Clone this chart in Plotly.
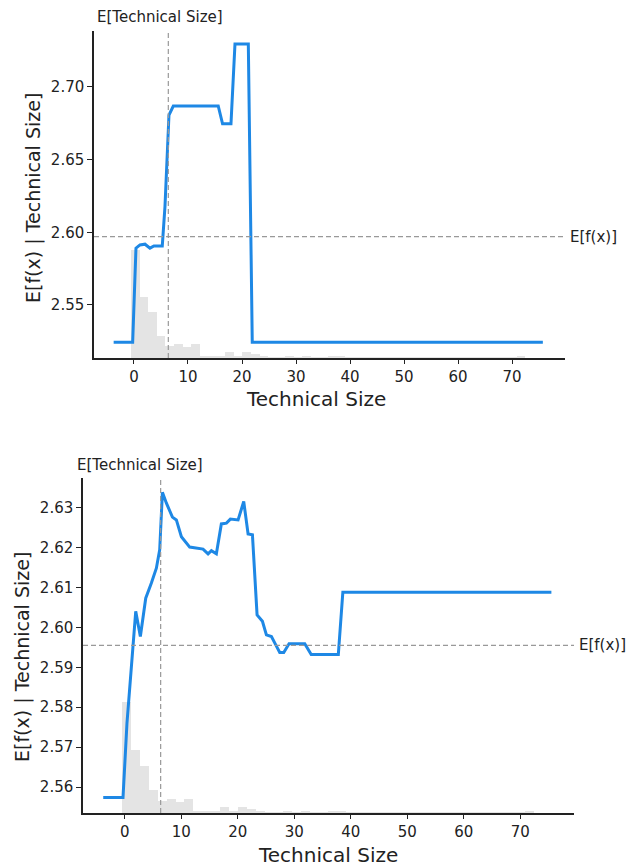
import numpy as np
import plotly.graph_objects as go

# ---------------- data ----------------
feature_name = "Technical Size"
expected_feature = 6.36          # E[Technical Size]

# top panel: partial dependence
top_x = [-3.76, -0.24, 0.37, 1.11, 2.04, 2.96, 3.7, 5.24, 5.74, 6.48, 7.28, 15.6,
         16.4, 17.96, 18.7, 21.17, 21.9, 75.7]
top_y = [2.5244, 2.5244, 2.5891, 2.5913, 2.5918, 2.5891, 2.5906, 2.5906, 2.6177,
         2.6807, 2.6869, 2.6869, 2.6746, 2.6746, 2.7296, 2.7296, 2.5244, 2.5244]
top_base = 2.597                 # E[f(x)]

# bottom panel: partial dependence
bot_x = [-3.8, -0.3, 0.4, 1.18, 1.95, 2.77, 3.72, 4.72, 5.6, 6.19, 6.67, 7.38, 8.44,
         9.14, 10.03, 11.5, 13.86, 14.75, 15.34, 16.22, 17.1, 18.0, 18.7, 20.06,
         21.06, 21.83, 22.6, 23.42, 24.37, 25.07, 25.96, 26.73, 27.43, 28.14, 29.08,
         31.86, 33.0, 37.8, 38.6, 75.5]
bot_y = [2.5574, 2.5574, 2.5760, 2.5890, 2.6040, 2.5977, 2.6073, 2.6111, 2.6148,
         2.6194, 2.6338, 2.6311, 2.6276, 2.6269, 2.6227, 2.6201, 2.6196, 2.6184,
         2.6192, 2.6184, 2.6259, 2.6261, 2.6271, 2.6269, 2.6315, 2.6234, 2.6232,
         2.6031, 2.6015, 2.5981, 2.5977, 2.5956, 2.5937, 2.5937, 2.5959, 2.5959,
         2.5932, 2.5932, 2.6088, 2.6088]
bot_base = 2.5955                # E[f(x)]

# feature histogram (shared by both panels), 50 bins over hist_range
hist_range = (-3.7, 75.6)
hist_counts = [0, 0, 1110, 630, 470, 230, 120, 140, 110, 140,
               20, 20, 20, 65, 20, 65, 40, 15, 10, 10,
               25, 10, 25, 5, 5, 25, 25, 5, 5, 3,
               3, 3, 3, 3, 3, 3, 3, 3, 3, 3,
               3, 3, 3, 3, 3, 3, 5, 25, 0, 0]

x_ticks = [0, 10, 20, 30, 40, 50, 60, 70]
top_yticks = [2.55, 2.60, 2.65, 2.70]
bot_yticks = [2.56, 2.57, 2.58, 2.59, 2.60, 2.61, 2.62, 2.63]

# ---------------- figure ----------------
W, H = 626, 866
FONT = "DejaVu Sans"
TXT = "#222222"
BLUE = "#1E88E5"
GRAY_DASH = "#999999"

edges = np.linspace(hist_range[0], hist_range[1], len(hist_counts) + 1)
centers = (edges[:-1] + edges[1:]) / 2
bw = edges[1] - edges[0]


def px_x(p):
    return p / W


def px_y(p):
    return 1 - p / H


fig = go.Figure()

# histograms (base, hidden y axes)
fig.add_trace(go.Bar(x=centers, y=hist_counts, width=bw, marker=dict(color="#e4e4e4", line=dict(width=0)),
                     xaxis="x", yaxis="y", hoverinfo="skip", showlegend=False))
fig.add_trace(go.Bar(x=centers, y=hist_counts, width=bw, marker=dict(color="#e4e4e4", line=dict(width=0)),
                     xaxis="x2", yaxis="y2", hoverinfo="skip", showlegend=False))

# partial dependence lines (overlaying visible y axes)
fig.add_trace(go.Scatter(x=top_x, y=top_y, mode="lines", line=dict(color=BLUE, width=3),
                         xaxis="x", yaxis="y3", showlegend=False))
fig.add_trace(go.Scatter(x=bot_x, y=bot_y, mode="lines", line=dict(color=BLUE, width=3),
                         xaxis="x2", yaxis="y4", showlegend=False))

hmax = max(hist_counts)
tickfont = dict(family=FONT, size=15, color=TXT)
common_x = dict(showline=True, linecolor="#222222", linewidth=1.5, ticks="outside", ticklen=4,
                tickwidth=1.2, tickcolor="#222222", showgrid=False, zeroline=False,
                tickvals=x_ticks, tickfont=tickfont)
common_y = dict(showline=True, linecolor="#222222", linewidth=1.5, ticks="outside", ticklen=5,
                tickwidth=1.2, tickcolor="#222222", showgrid=False, zeroline=False,
                tickformat=".2f", tickfont=tickfont, side="left")

fig.update_layout(
    width=W, height=H, margin=dict(l=0, r=0, t=0, b=0),
    paper_bgcolor="white", plot_bgcolor="white", bargap=0, barmode="overlay",
    font=dict(family=FONT, color=TXT),
    xaxis=dict(domain=[px_x(94), px_x(565)], anchor="y", range=[-7.4, 79.8], **common_x),
    yaxis=dict(domain=[px_y(358), px_y(31)], anchor="x", range=[0, 3.02 * hmax], visible=False),
    yaxis3=dict(overlaying="y", anchor="x", range=[2.5135, 2.7385], tickvals=top_yticks, **common_y),
    xaxis2=dict(domain=[px_x(83), px_x(574)], anchor="y2", range=[-7.38, 79.5], **common_x),
    yaxis2=dict(domain=[px_y(813), px_y(478)], anchor="x2", range=[0, 3.02 * hmax], visible=False),
    yaxis4=dict(overlaying="y2", anchor="x2", range=[2.5535, 2.6374], tickvals=bot_yticks, **common_y),
)

dash = dict(color=GRAY_DASH, width=1.2, dash="5px,3px")
for xr, ydom, yr, yv in [("x", "y", "y3", top_base), ("x2", "y2", "y4", bot_base)]:
    fig.add_shape(type="line", xref=xr, yref=ydom + " domain",
                  x0=expected_feature, x1=expected_feature, y0=0, y1=1, line=dash)
    fig.add_shape(type="line", xref=xr + " domain", yref=yr, x0=0, x1=1, y0=yv, y1=yv, line=dash)

ann_font = dict(family=FONT, size=15, color=TXT)
# E[feature] labels above the plots
fig.add_annotation(text="E[" + feature_name + "]", x=expected_feature, xref="x", y=px_y(17), yref="paper",
                   xanchor="center", yanchor="middle", xshift=-8, showarrow=False, font=ann_font)
fig.add_annotation(text="E[" + feature_name + "]", x=expected_feature, xref="x2", y=px_y(465), yref="paper",
                   xanchor="center", yanchor="middle", xshift=-21, showarrow=False, font=ann_font)
# E[f(x)] labels on the right
fig.add_annotation(text="E[f(x)]", x=1, xref="x domain", y=top_base, yref="y3",
                   xanchor="left", yanchor="middle", xshift=3, showarrow=False, font=ann_font)
fig.add_annotation(text="E[f(x)]", x=1, xref="x2 domain", y=bot_base, yref="y4",
                   xanchor="left", yanchor="middle", xshift=3, showarrow=False, font=ann_font)

# axis titles
title_font = dict(family=FONT, size=19, color=TXT)
fig.add_annotation(text=feature_name, x=px_x(316), y=px_y(399), xref="paper", yref="paper",
                   xanchor="center", yanchor="middle", showarrow=False, font=dict(family=FONT, size=20, color=TXT))
fig.add_annotation(text=feature_name, x=px_x(328), y=px_y(855), xref="paper", yref="paper",
                   xanchor="center", yanchor="middle", showarrow=False, font=dict(family=FONT, size=20, color=TXT))
fig.add_annotation(text="E[f(x) | " + feature_name + "]", x=px_x(33), y=px_y(198), xref="paper", yref="paper",
                   xanchor="center", yanchor="middle", textangle=-90, showarrow=False, font=title_font)
fig.add_annotation(text="E[f(x) | " + feature_name + "]", x=px_x(22), y=px_y(657), xref="paper", yref="paper",
                   xanchor="center", yanchor="middle", textangle=-90, showarrow=False, font=title_font)

fig.write_html("out.html")
